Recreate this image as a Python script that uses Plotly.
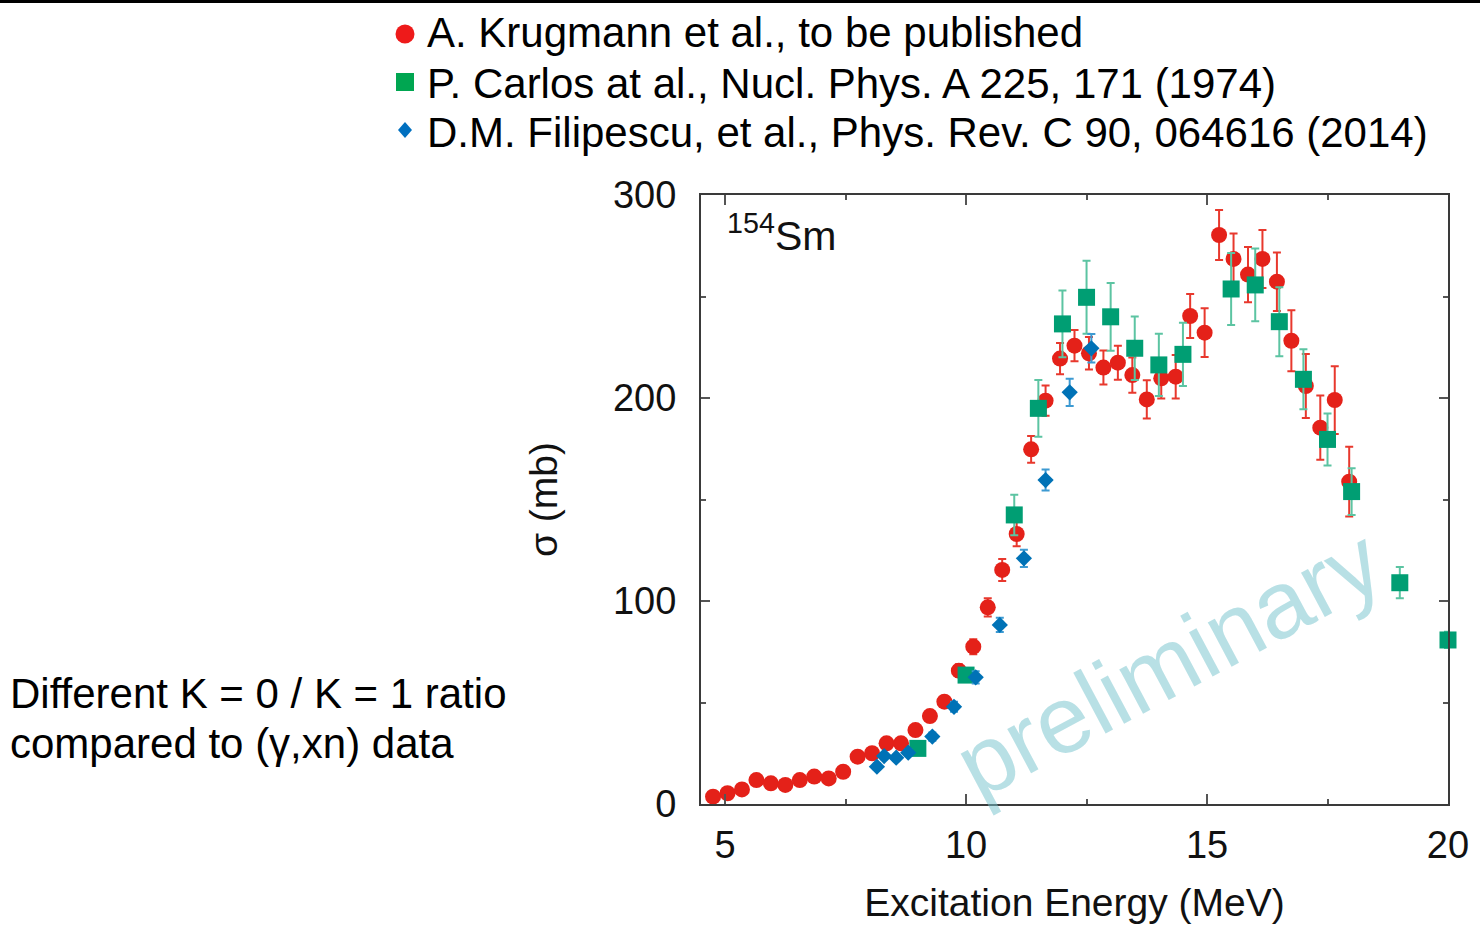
import plotly.graph_objects as go

# ---------------- data ----------------
krug_x = [4.75, 5.05, 5.35, 5.65, 5.95, 6.25, 6.55, 6.85, 7.15, 7.45, 7.75, 8.05, 8.35, 8.65,
          8.95, 9.25, 9.55, 9.85, 10.15, 10.45, 10.75, 11.05, 11.35, 11.65, 11.95, 12.25,
          12.55, 12.85, 13.15, 13.45, 13.75, 14.05, 14.35, 14.65, 14.95, 15.25, 15.55, 15.85,
          16.15, 16.45, 16.75, 17.05, 17.35, 17.65, 17.95]
krug_y = [3.6, 5.3, 7.2, 11.8, 10.2, 9.4, 11.8, 13.5, 12.6, 15.9, 23.3, 25.0, 29.9, 29.9,
          36.4, 43.3, 50.4, 65.7, 77.5, 96.9, 115.3, 133.0, 174.7, 198.7, 219.4, 225.8,
          222.0, 215.0, 217.4, 211.3, 199.3, 209.7, 210.5, 240.4, 232.2, 280.3, 268.5, 260.8,
          268.5, 257.3, 228.2, 205.9, 185.4, 199.0, 158.8]
krug_err = [0.5, 0.5, 0.6, 0.8, 0.7, 0.7, 0.8, 0.9, 0.9, 1.0, 1.3, 1.4, 1.6, 1.6,
            1.9, 2.2, 2.5, 3.2, 3.7, 4.5, 5.4, 6.0, 6.6, 7.4, 7.7, 7.7,
            8.0, 8.4, 8.4, 8.7, 9.4, 9.9, 10.7, 10.8, 12.0, 12.3, 12.5, 13.6,
            14.3, 14.4, 15.0, 15.8, 15.8, 16.7, 17.2]

carlos_x = [9.0, 10.0, 11.0, 11.5, 12.0, 12.5, 13.0, 13.5, 14.0, 14.5, 15.5, 16.0, 16.5,
            17.0, 17.5, 18.0, 19.0, 20.0]
carlos_y = [27.4, 63.5, 142.4, 194.9, 236.5, 249.6, 240.0, 224.5, 216.3, 221.5, 253.7, 255.7,
            237.6, 209.2, 179.6, 153.9, 109.0, 80.8]
carlos_err = [2.0, 3.0, 10.0, 14.0, 16.4, 18.0, 16.7, 15.6, 15.3, 15.6, 17.7, 17.9, 17.0,
              14.8, 12.8, 11.5, 7.7, 4.0]

fili_x = [8.15, 8.3, 8.55, 8.8, 9.3, 9.75, 10.2, 10.7, 11.2, 11.65, 12.15, 12.6]
fili_y = [18.4, 23.6, 22.8, 25.3, 33.2, 47.9, 62.4, 88.2, 121.0, 159.6, 202.8, 224.5]
fili_err = [1.5, 1.5, 1.5, 1.5, 2.0, 2.5, 3.0, 3.5, 4.3, 5.2, 6.7, 7.0]

legend_labels = ["A. Krugmann et al., to be published",
                 "P. Carlos at al., Nucl. Phys. A 225, 171 (1974)",
                 "D.M. Filipescu, et al., Phys. Rev. C 90, 064616 (2014)"]
side_text = ["Different K = 0 / K = 1 ratio", "compared to (\u03b3,xn) data"]

x_ticks = [5, 10, 15, 20]
y_ticks = [0, 100, 200, 300]

# ---------------- layout helpers ----------------
W, H = 1480, 928
FONT = "Liberation Sans, Arial, sans-serif"


def px(x):
    return x / W


def py(y):
    return 1 - y / H


RED, GREEN, BLUE = "#e42119", "#009e73", "#0072b6"

fig = go.Figure()
fig.add_trace(go.Scatter(
    x=krug_x, y=krug_y, mode="markers", name=legend_labels[0], cliponaxis=False,
    marker=dict(symbol="circle", size=16, color=RED),
    error_y=dict(type="data", array=krug_err, color="#e8382d", thickness=2, width=4)))
fig.add_trace(go.Scatter(
    x=carlos_x, y=carlos_y, mode="markers", name=legend_labels[1], cliponaxis=False,
    marker=dict(symbol="square", size=17, color=GREEN),
    error_y=dict(type="data", array=carlos_err, color="#5cc4a2", thickness=2, width=4)))
fig.add_trace(go.Scatter(
    x=fili_x, y=fili_y, mode="markers", name=legend_labels[2], cliponaxis=False,
    marker=dict(symbol="diamond", size=12.5, color=BLUE),
    error_y=dict(type="data", array=fili_err, color="#3d9ad2", thickness=2, width=4)))

axis_common = dict(
    showline=True, linewidth=2, linecolor="#3a3a3a", mirror="ticks", automargin=False,
    ticks="inside", tickwidth=1.5, tickcolor="#555", showgrid=False, zeroline=False,
    tickfont=dict(family=FONT, size=38, color="#111"),
)

fig.update_layout(
    width=W, height=H, margin=dict(l=0, r=0, t=0, b=0, pad=0, autoexpand=False),
    paper_bgcolor="white", plot_bgcolor="white", showlegend=False,
    font=dict(family=FONT, color="#111"),
    xaxis=dict(axis_common, range=[4.5, 20], tickvals=x_ticks, ticklen=10,
               domain=[px(701), px(1448)], ticklabelstandoff=6,
               title=dict(text="Excitation Energy (MeV)", standoff=24,
                          font=dict(family=FONT, size=39, color="#111")),
               minor=dict(dtick=2.5, tick0=0, ticks="inside", ticklen=5,
                          tickwidth=1.5, tickcolor="#555")),
    yaxis=dict(axis_common, range=[0, 300], tickvals=y_ticks, ticklen=9,
               domain=[py(804), py(195)], ticklabelstandoff=15,
               title=dict(text="\u03c3 (mb)", standoff=43,
                          font=dict(family=FONT, size=39, color="#111")),
               minor=dict(dtick=50, tick0=0, ticks="inside", ticklen=5,
                          tickwidth=1.5, tickcolor="#555")),
)

ann = []
# isotope label
ann.append(dict(text="<sup>154</sup>Sm", x=px(725), y=py(233), xref="paper", yref="paper",
                xanchor="left", yanchor="middle", showarrow=False,
                font=dict(family=FONT, size=41, color="#111")))
# watermark
ann.append(dict(text="preliminary", x=px(1168), y=py(663), xref="paper", yref="paper",
                xanchor="center", yanchor="middle", textangle=-28, showarrow=False,
                font=dict(family=FONT, size=95, color="rgba(118,196,206,0.52)")))
# legend texts
for i, lab in enumerate(legend_labels):
    ann.append(dict(text=lab, x=px(425), y=py(33 + 50 * i), xref="paper", yref="paper",
                    xanchor="left", yanchor="middle", showarrow=False,
                    font=dict(family=FONT, size=42, color="#000")))
# side text
for i, t in enumerate(side_text):
    ann.append(dict(text=t, x=px(8), y=py(693 + 50 * i), xref="paper", yref="paper",
                    xanchor="left", yanchor="middle", showarrow=False,
                    font=dict(family=FONT, size=42, color="#000")))
fig.update_layout(annotations=ann)

shapes = [
    # top black rule
    dict(type="line", xref="paper", yref="paper", x0=0, x1=1, y0=py(1.5), y1=py(1.5),
         line=dict(color="black", width=3)),
    # legend glyphs
    dict(type="circle", xref="paper", yref="paper", x0=px(395.5), x1=px(414.5),
         y0=py(43.5), y1=py(24.5), fillcolor="#ee1a1a", line=dict(width=0)),
    dict(type="rect", xref="paper", yref="paper", x0=px(396), x1=px(414),
         y0=py(91), y1=py(73), fillcolor="#00a651", line=dict(width=0)),
    dict(type="path", xref="paper", yref="paper",
         path=f"M {px(405)} {py(122)} L {px(412)} {py(130)} L {px(405)} {py(138)} L {px(398)} {py(130)} Z",
         fillcolor="#0070c0", line=dict(width=0)),
]
fig.update_layout(shapes=shapes)

fig.write_html("out.html")
